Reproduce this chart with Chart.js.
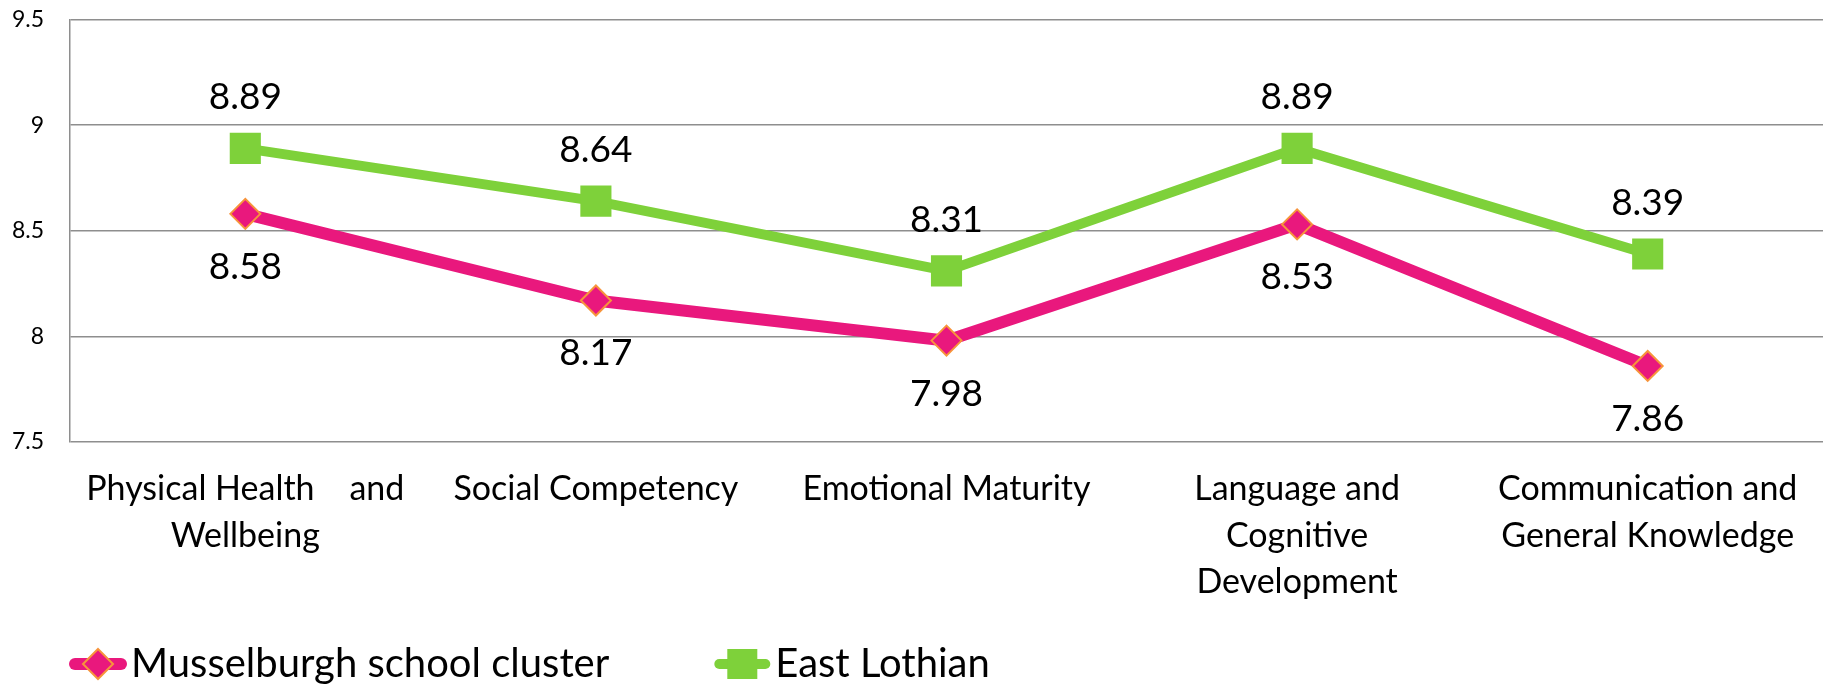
<!DOCTYPE html>
<html>
<head>
<meta charset="utf-8">
<script src="https://cdn.jsdelivr.net/npm/chart.js@4"></script>
<style>
  html, body { margin: 0; padding: 0; background: #fff; }
  canvas { display: block; }
</style>
</head>
<body>
<canvas id="myChart" width="1825" height="684"></canvas>
<script>
var categories = [
  ["Physical Health    and", "Wellbeing"],
  "Social Competency",
  "Emotional Maturity",
  ["Language and", "Cognitive", "Development"],
  ["Communication and", "General Knowledge"]
];
var seriesNames = ["Musselburgh school cluster", "East Lothian"];
var musselburgh = [8.58, 8.17, 7.98, 8.53, 7.86];
var eastLothian = [8.89, 8.64, 8.31, 8.89, 8.39];
var yTicks = [7.5, 8, 8.5, 9, 9.5];

var PINK = "#E9187D";
var ORANGE = "#F7943B";
var GREEN = "#7ED13A";
var GRID = "#8E8E8E";

// value labels above / below each point
var valueLabels = {
  id: "valueLabels",
  afterDatasetsDraw: function (chart) {
    var ctx = chart.ctx;
    ctx.save();
    ctx.font = "37px Lato";
    ctx.fillStyle = "#000";
    ctx.textAlign = "center";
    ctx.textBaseline = "middle";
    chart.data.datasets.forEach(function (ds, i) {
      var meta = chart.getDatasetMeta(i);
      meta.data.forEach(function (pt, j) {
        ctx.fillText(ds.data[j].toFixed(2), pt.x, pt.y + ds.labelOffset);
      });
    });
    ctx.restore();
  }
};

// legend with line + marker, like the original
var lineLegend = {
  id: "lineLegend",
  afterDraw: function (chart) {
    var ctx = chart.ctx;
    var y = 664;
    var x = 70;
    ctx.save();
    ctx.font = "40px Lato";
    ctx.textBaseline = "middle";
    ctx.textAlign = "left";
    chart.data.datasets.forEach(function (ds) {
      ctx.strokeStyle = ds.borderColor;
      ctx.lineWidth = ds.borderWidth;
      ctx.lineCap = "round";
      ctx.beginPath();
      ctx.moveTo(x + 5, y);
      ctx.lineTo(x + 51, y);
      ctx.stroke();
      var cx = x + 28;
      ctx.fillStyle = ds.pointBackgroundColor;
      if (ds.pointStyle === "rectRot") {
        ctx.beginPath();
        ctx.moveTo(cx, y - 15);
        ctx.lineTo(cx + 15, y);
        ctx.lineTo(cx, y + 15);
        ctx.lineTo(cx - 15, y);
        ctx.closePath();
        ctx.fill();
        ctx.lineWidth = ds.pointBorderWidth;
        ctx.strokeStyle = ds.pointBorderColor;
        ctx.stroke();
      } else {
        ctx.fillRect(cx - 15, y - 15, 30, 30);
      }
      ctx.fillStyle = "#000";
      ctx.fillText(ds.label, x + 61, y);
      x = x + 61 + ctx.measureText(ds.label).width + 105;
    });
    ctx.restore();
  }
};

function draw() {
  var ctx = document.getElementById("myChart").getContext("2d");
  new Chart(ctx, {
    type: "line",
    data: {
      labels: categories,
      datasets: [
        {
          label: seriesNames[0],
          data: musselburgh,
          borderColor: PINK,
          backgroundColor: PINK,
          borderWidth: 12,
          pointStyle: "rectRot",
          pointRadius: 15,
          pointBackgroundColor: PINK,
          pointBorderColor: ORANGE,
          pointBorderWidth: 2,
          tension: 0,
          labelOffset: 53
        },
        {
          label: seriesNames[1],
          data: eastLothian,
          borderColor: GREEN,
          backgroundColor: GREEN,
          borderWidth: 10,
          pointStyle: "rect",
          pointRadius: 22,
          pointBackgroundColor: GREEN,
          pointBorderColor: GREEN,
          pointBorderWidth: 0,
          tension: 0,
          labelOffset: -51
        }
      ]
    },
    options: {
      responsive: false,
      animation: false,
      events: [],
      layout: { autoPadding: false, padding: { top: 19.5, right: 2, bottom: 72, left: 0 } },
      plugins: {
        legend: { display: false },
        tooltip: { enabled: false }
      },
      scales: {
        x: {
          offset: true,
          grid: { display: false, drawTicks: false },
          border: { display: false },
          ticks: {
            font: { family: "Lato", size: 34, lineHeight: 1.37 },
            color: "#000",
            padding: 24,
            maxRotation: 0,
            autoSkip: false
          },
          afterFit: function (s) {
            s.height = 170;
            s.paddingLeft = 0;
            s.paddingRight = 0;
          }
        },
        y: {
          min: 7.5,
          max: 9.5,
          afterBuildTicks: function (axis) {
            axis.ticks = yTicks.map(function (v) { return { value: v }; });
          },
          ticks: {
            font: { family: "Lato", size: 23 },
            color: "#000",
            padding: 26,
            callback: function (v) { return String(v); }
          },
          grid: { color: GRID, lineWidth: 1.5, drawTicks: false },
          border: { display: true, color: GRID, width: 1.5 },
          afterFit: function (s) {
            s.width = 70;
            s.paddingTop = 0;
            s.paddingBottom = 0;
          }
        }
      }
    },
    plugins: [valueLabels, lineLegend]
  });
}

if (document.fonts && document.fonts.load) {
  Promise.all([document.fonts.load("36px Lato"), document.fonts.load("22px Lato")]).then(draw, draw);
} else {
  draw();
}
</script>
</body>
</html>
